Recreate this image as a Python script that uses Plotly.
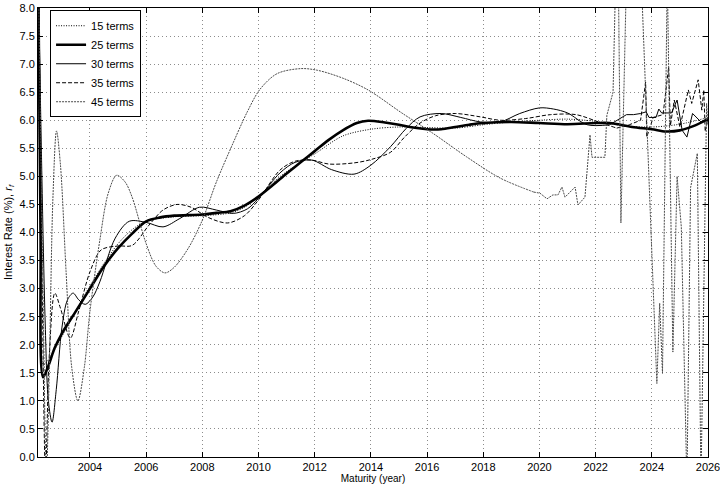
import plotly.graph_objects as go

# ---------------- data ----------------
x_ticks = [2004, 2006, 2008, 2010, 2012, 2014, 2016, 2018, 2020, 2022, 2024, 2026]

# 15 terms (dotted)
t15_x = [2002.15, 2002.25, 2002.35, 2002.6, 2003.0, 2003.5, 2004.0, 2004.5, 2005.0, 2005.5,
         2006.0, 2007.0, 2008.0, 2009.0, 2009.5, 2010.0, 2010.75, 2011.5, 2012.0, 2013.0,
         2014.0, 2015.0, 2016.0, 2017.0, 2018.0, 2019.0, 2020.0, 2021.0, 2022.0, 2023.0,
         2024.0, 2025.0, 2026.0]
t15_y = [8.8, 3.6, 1.65, 1.8, 2.15, 2.6, 3.05, 3.45, 3.8, 4.05,
         4.2, 4.28, 4.3, 4.35, 4.45, 4.65, 4.99, 5.25, 5.4, 5.72,
         5.84, 5.88, 5.87, 5.86, 5.92, 5.97, 6.0, 6.02, 5.98, 5.9,
         5.88, 5.93, 6.05]

# 25 terms (thick)
t25_x = [2002.15, 2002.24, 2002.33, 2002.5, 2002.75, 2003.0, 2003.5, 2004.0, 2004.5, 2005.0,
         2005.5, 2006.0, 2006.5, 2007.0, 2008.0, 2008.5, 2009.0, 2009.5, 2010.0, 2010.5,
         2011.0, 2011.5, 2012.0, 2012.5, 2013.0, 2013.5, 2013.9, 2014.5, 2015.0, 2015.5,
         2016.0, 2016.5, 2017.0, 2017.5, 2018.0, 2019.0, 2020.0, 2021.0, 2022.0, 2022.5,
         2023.3, 2024.0, 2024.5, 2025.0, 2025.5, 2026.0]
t25_y = [9.0, 4.0, 1.42, 1.6, 1.95, 2.2, 2.6, 3.0, 3.4, 3.72,
         3.98, 4.2, 4.27, 4.3, 4.32, 4.35, 4.38, 4.48, 4.64, 4.84,
         5.05, 5.25, 5.45, 5.65, 5.82, 5.95, 5.99, 5.96, 5.92, 5.87,
         5.84, 5.84, 5.88, 5.92, 5.95, 5.97, 5.95, 5.93, 5.95, 5.95,
         5.88, 5.84, 5.8, 5.82, 5.9, 6.02]

# 30 terms (thin solid): smooth part and ragged tail
t30_x = [2002.15, 2002.4, 2002.52, 2002.65, 2002.8, 2003.0, 2003.2, 2003.4, 2003.6, 2003.83,
         2004.1, 2004.35, 2004.9, 2005.4, 2006.0, 2006.6, 2007.2, 2007.9, 2008.5, 2009.1,
         2009.6, 2010.0, 2010.76, 2011.3, 2011.9, 2012.6, 2013.4, 2014.0, 2014.7, 2015.25,
         2015.75, 2016.5, 2017.2, 2017.9, 2018.6, 2019.3, 2020.0, 2020.5, 2021.0, 2021.7,
         2022.5]
t30_y = [8.8, 2.5, 1.0, 0.62, 1.2, 2.3, 2.8, 2.92, 2.8, 2.72,
         2.85, 3.12, 3.9, 4.2, 4.18, 4.1, 4.25, 4.45, 4.4, 4.34,
         4.42, 4.61, 5.06, 5.25, 5.29, 5.12, 5.04, 5.2, 5.53, 5.85,
         6.06, 6.12, 6.05, 5.97, 5.97, 6.12, 6.22, 6.2, 6.13, 5.92,
         5.92]
t30_tail_x = [2022.5, 2023.1, 2023.35, 2023.6, 2023.8, 2023.9, 2024.15, 2024.25, 2024.35, 2024.7,
              2024.9, 2025.08, 2025.25, 2025.45, 2025.75, 2026.0]
t30_tail_y = [5.92, 6.1, 6.1, 6.12, 6.15, 6.05, 6.05, 6.2, 6.13, 6.13,
              6.36, 5.82, 5.7, 6.12, 5.97, 6.03]

# 35 terms (dashed)
t35_x = [2002.15, 2002.3, 2002.42, 2002.55, 2002.75, 2002.95, 2003.3, 2003.6, 2004.0, 2004.4,
         2005.0, 2005.5, 2006.1, 2006.6, 2007.1, 2007.6, 2008.2, 2008.9, 2009.5, 2010.0,
         2010.76, 2011.3, 2011.9, 2012.5, 2013.4, 2014.0, 2014.7, 2015.2, 2015.75, 2016.3,
         2017.0, 2017.9, 2018.6, 2019.5, 2020.4, 2021.3, 2022.1, 2022.75]
t35_y = [9.5, 3.0, -0.3, 1.8, 2.92, 2.65, 2.12, 2.6, 3.3, 3.69,
         3.76, 3.77, 4.13, 4.4, 4.5, 4.45, 4.27, 4.17, 4.3, 4.58,
         5.11, 5.27, 5.29, 5.22, 5.24, 5.3, 5.43, 5.7, 5.95, 6.08,
         6.12, 6.06, 6.0, 6.03, 6.1, 6.1, 5.97, 5.86]
t35_tail_x = [2022.75, 2023.2, 2023.6, 2023.78, 2023.82, 2024.05, 2024.4, 2024.6, 2024.66, 2024.8,
              2025.0, 2025.3, 2025.42, 2025.65, 2025.78, 2025.85, 2025.9, 2026.0]
t35_tail_y = [5.86, 5.92, 6.0, 6.68, 5.7, 6.05, 6.1, 6.95, 5.9, 6.36,
              5.88, 6.54, 6.3, 6.72, 6.18, 6.54, 5.8, 6.05]

# 45 terms (grey, fine dashes)
t45_x = [2002.15, 2002.3, 2002.45, 2002.55, 2002.68, 2002.81, 2002.95, 2003.15, 2003.35, 2003.57,
         2003.8, 2004.0, 2004.35, 2004.65, 2004.95, 2005.25, 2005.5, 2006.0, 2006.35, 2006.67,
         2007.0, 2007.5, 2008.0, 2008.5, 2009.1, 2009.6, 2010.05, 2010.66, 2011.5, 2012.1,
         2013.0, 2013.9, 2015.1, 2016.2, 2017.4, 2018.6, 2019.8]
t45_y = [9.0, 4.0, -0.3, 1.5, 4.6, 5.81, 5.2, 3.3, 1.6, 1.0,
         1.6, 2.6, 3.86, 4.7, 5.02, 4.9, 4.63, 3.8, 3.4, 3.28,
         3.38, 3.72, 4.22, 4.9, 5.6, 6.15, 6.55, 6.83, 6.92, 6.89,
         6.75, 6.54, 6.13, 5.77, 5.35, 4.97, 4.72]
t45_tail_x = [2019.8, 2020.02, 2020.27, 2020.48, 2020.66, 2020.8, 2020.91, 2021.27, 2021.37, 2021.62,
              2021.8, 2021.87, 2022.33, 2022.4, 2022.62, 2022.78, 2022.9, 2023.1, 2023.45, 2023.65,
              2024.18, 2024.28, 2024.38, 2024.55, 2024.75, 2024.9, 2025.05, 2025.25, 2025.38, 2025.62,
              2025.75, 2025.95, 2026.0]
t45_tail_y = [4.72, 4.70, 4.60, 4.67, 4.67, 4.81, 4.63, 4.81, 4.49, 4.63,
              5.74, 5.34, 5.34, 6.09, 6.5, 10.0, 4.17, 8.6, 9.0, 8.2,
              1.31, 2.74, 1.49, 8.6, 1.87, 5.0, 4.1, -0.5, 4.8, 5.41,
              -0.5, 6.3, 5.9]

# ---------------- figure ----------------
FONT = "Liberation Sans, Arial, sans-serif"
fig = go.Figure()

def add(x, y, name, color, width, dash, shape, show):
    fig.add_trace(go.Scatter(
        x=x, y=y, mode="lines", name=name, legendgroup=name, showlegend=show,
        line=dict(color=color, width=width, dash=dash, shape=shape,
                  smoothing=0.9 if shape == "spline" else None),
        hoverinfo="skip"))

add(t15_x, t15_y, "15 terms", "#000000", 1, "1px,1.5px", "spline", True)
add(t25_x, t25_y, "25 terms", "#000000", 2.6, "solid", "spline", True)
add(t30_x, t30_y, "30 terms", "#000000", 1, "solid", "spline", True)
add(t30_tail_x, t30_tail_y, "30 terms", "#000000", 1, "solid", "linear", False)
add(t35_x, t35_y, "35 terms", "#000000", 1, "4px,2px", "spline", True)
add(t35_tail_x, t35_tail_y, "35 terms", "#000000", 1, "4px,2px", "linear", False)
add(t45_x, t45_y, "45 terms", "#4a4a4a", 1, "2px,1px", "spline", True)
add(t45_tail_x, t45_tail_y, "45 terms", "#4a4a4a", 1, "2px,1px", "linear", False)

axis_common = dict(
    showline=True, linecolor="black", linewidth=1, mirror="allticks",
    ticks="inside", ticklen=5, tickcolor="black",
    showgrid=True, gridcolor="#8c8c8c", griddash="1px,3px", gridwidth=1,
    zeroline=False, tickfont=dict(family=FONT, size=11, color="black"),
    automargin=False, ticklabeloverflow="allow",
)

fig.update_xaxes(range=[2002.15, 2026.0], tickvals=x_ticks,
                 ticktext=[str(v) for v in x_ticks],
                 title=dict(text="Maturity (year)", font=dict(family=FONT, size=10, color="black"),
                            standoff=0),
                 **axis_common)
fig.update_yaxes(range=[0, 8], dtick=0.5, tick0=0, tickformat=".1f",
                 title=dict(text="Interest Rate (%), <i>r</i><sub><i>f</i></sub>",
                            font=dict(family=FONT, size=11, color="black"), standoff=4),
                 **axis_common)

fig.update_layout(
    width=720, height=489,
    margin=dict(l=38, r=12, t=8, b=32),
    paper_bgcolor="white", plot_bgcolor="white",
    font=dict(family=FONT, size=11, color="black"),
    showlegend=True,
    legend=dict(x=0.018, y=0.995, xanchor="left", yanchor="top",
                bgcolor="white", bordercolor="black", borderwidth=1,
                font=dict(family=FONT, size=11, color="black"),
                tracegroupgap=0, itemwidth=30),
)

fig.write_html("out.html", config={"displayModeBar": False},
               post_script="document.body.style.margin='0';document.body.style.overflow='hidden';")
